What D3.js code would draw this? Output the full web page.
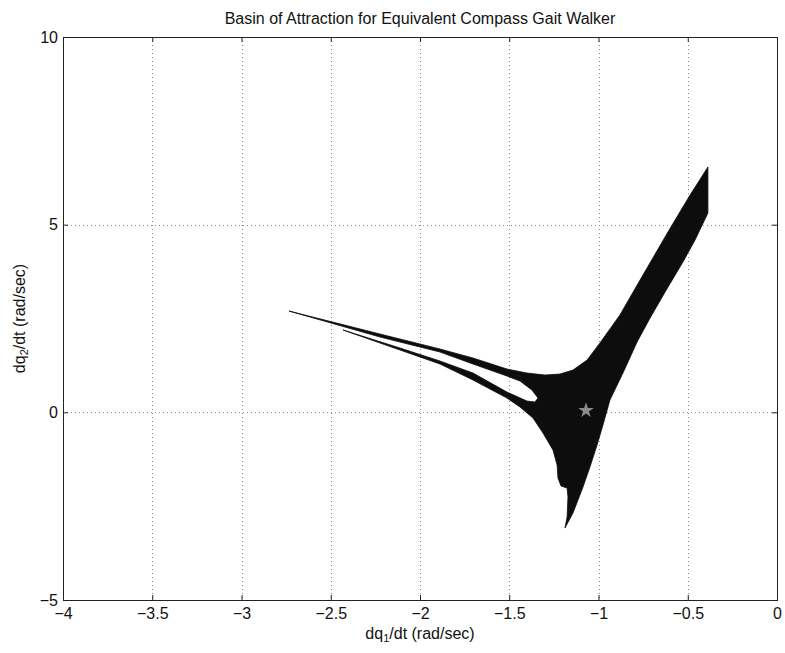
<!DOCTYPE html>
<html>
<head>
<meta charset="utf-8">
<script src="https://cdn.jsdelivr.net/npm/d3@7"></script>
<style>
	body { margin: 0; background: #fff; }
	svg { display: block; font-family: "Liberation Sans", Arial, sans-serif; }
</style>
</head>
<body>
<svg id="chart" width="785" height="653"></svg>
<script>
// axis ticks
const xTicks = [-4, -3.5, -3, -2.5, -2, -1.5, -1, -0.5, 0];
const yTicks = [-5, 0, 5, 10];

// outline of the basin, traced clockwise from the tip of the upper arm (dq1, dq2)
const basinX = [
	-2.734, -2.224, -1.888, -1.703, -1.513, -1.401, -1.300, -1.216, -1.143, -1.064,
	-0.992, -0.880, -0.751, -0.611, -0.487, -0.387, -0.387, -0.459, -0.527, -0.627,
	-0.711, -0.784, -0.863, -0.936, -0.975, -1.008, -1.048, -1.087, -1.143, -1.188,
	-1.176, -1.171, -1.176, -1.210, -1.227, -1.232, -1.255, -1.311, -1.367, -1.440,
	-1.513, -1.703, -1.888, -2.112, -2.431, -2.112, -1.888, -1.703, -1.513, -1.401,
	-1.356, -1.339, -1.373, -1.440, -1.513, -1.703, -1.888, -2.224
];
const basinY = [
	2.699, 2.086, 1.687, 1.447, 1.154, 1.047, 0.994, 1.020, 1.127, 1.393,
	1.847, 2.593, 3.658, 4.804, 5.790, 6.536, 5.310, 4.591, 4.005, 3.205,
	2.513, 1.873, 1.047, 0.328, -0.338, -0.871, -1.458, -1.990, -2.683, -3.083,
	-2.790, -2.257, -2.017, -1.964, -1.751, -1.404, -1.005, -0.552, -0.152, 0.141,
	0.381, 0.861, 1.287, 1.660, 2.193, 1.713, 1.367, 1.047, 0.541, 0.301,
	0.274, 0.381, 0.594, 0.834, 0.967, 1.287, 1.607, 2.006
];

// fixed point of the walker
const fixedPoint = [-1.07, 0.05];

const svg = d3.select('#chart');
const mLeft = 63, mRight = 777, mTop = 37, mBottom = 600;

const x = d3.scaleLinear().domain([-4, 0]).range([mLeft, mRight]);
const y = d3.scaleLinear().domain([-5, 10]).range([mBottom, mTop]);

// dotted grid
const grid = svg.append('g')
	.attr('stroke', '#8a8a8a')
	.attr('stroke-width', 1)
	.attr('stroke-dasharray', '1,3');
grid.selectAll('.gx').data(xTicks.slice(1, -1)).enter()
	.append('line')
	.attr('x1', d => Math.round(x(d)) + 0.5).attr('x2', d => Math.round(x(d)) + 0.5)
	.attr('y1', mTop).attr('y2', mBottom);
grid.selectAll('.gy').data(yTicks.slice(1, -1)).enter()
	.append('line')
	.attr('y1', d => Math.round(y(d)) + 0.5).attr('y2', d => Math.round(y(d)) + 0.5)
	.attr('x1', mLeft).attr('x2', mRight);

// basin region
const pts = basinX.map((v, i) => [v, basinY[i]]);
svg.append('path')
	.attr('d', d3.line().x(d => x(d[0])).y(d => y(d[1]))(pts) + 'Z')
	.attr('fill', '#0d0d0d')
	.attr('stroke', '#0d0d0d')
	.attr('stroke-width', 0.8)
	.attr('stroke-linejoin', 'round');

// star marker
svg.append('path')
	.attr('d', d3.symbol().type(d3.symbolStar).size(75)())
	.attr('transform', `translate(${x(fixedPoint[0])},${y(fixedPoint[1])})`)
	.attr('fill', '#8c8c8c');

// axes box with inward ticks
const axisColor = '#222';
svg.append('g')
	.attr('transform', `translate(0,${mBottom})`)
	.call(d3.axisBottom(x).tickValues(xTicks).tickSizeInner(-5).tickSizeOuter(0).tickPadding(8).tickFormat(d3.format('')))
	.call(g => g.select('.domain').remove());
svg.append('g')
	.attr('transform', `translate(0,${mTop})`)
	.call(d3.axisTop(x).tickValues(xTicks).tickSizeInner(-5).tickSizeOuter(0).tickFormat(''))
	.call(g => g.select('.domain').remove());
svg.append('g')
	.attr('transform', `translate(${mLeft},0)`)
	.call(d3.axisLeft(y).tickValues(yTicks).tickSizeInner(-5).tickSizeOuter(0).tickPadding(5).tickFormat(d3.format('')))
	.call(g => g.select('.domain').remove());
svg.append('g')
	.attr('transform', `translate(${mRight},0)`)
	.call(d3.axisRight(y).tickValues(yTicks).tickSizeInner(-5).tickSizeOuter(0).tickFormat(''))
	.call(g => g.select('.domain').remove());

svg.selectAll('.tick line').attr('stroke', axisColor);
svg.selectAll('.tick text')
	.attr('fill', '#111')
	.style('font-size', '16px')
	.style('font-family', '"Liberation Sans", Arial, sans-serif');

svg.append('rect')
	.attr('x', mLeft + 0.5).attr('y', mTop + 0.5)
	.attr('width', mRight - mLeft).attr('height', mBottom - mTop)
	.attr('fill', 'none')
	.attr('stroke', axisColor);

// titles
svg.append('text')
	.attr('x', (mLeft + mRight) / 2).attr('y', 24)
	.attr('text-anchor', 'middle')
	.attr('font-size', 16)
	.attr('fill', '#111')
	.text('Basin of Attraction for Equivalent Compass Gait Walker');

const xl = svg.append('text')
	.attr('x', (mLeft + mRight) / 2).attr('y', 639)
	.attr('text-anchor', 'middle')
	.attr('font-size', 16)
	.attr('fill', '#111');
xl.append('tspan').text('dq');
xl.append('tspan').attr('baseline-shift', '-25%').attr('font-size', 11).text('1');
xl.append('tspan').text('/dt (rad/sec)');

const yl = svg.append('text')
	.attr('transform', `translate(25,${(mTop + mBottom) / 2}) rotate(-90)`)
	.attr('text-anchor', 'middle')
	.attr('font-size', 16)
	.attr('fill', '#111');
yl.append('tspan').text('dq');
yl.append('tspan').attr('baseline-shift', '-25%').attr('font-size', 11).text('2');
yl.append('tspan').text('/dt (rad/sec)');
</script>
</body>
</html>
